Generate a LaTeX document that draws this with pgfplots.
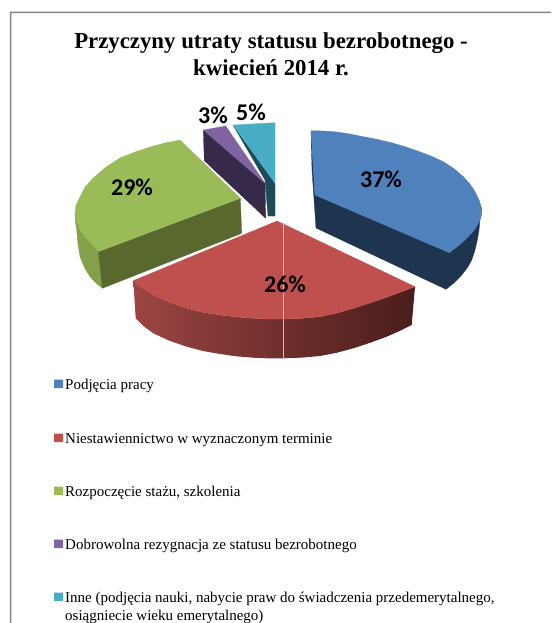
\documentclass[border=0pt]{standalone}
\usepackage{fontspec}
\setmainfont{Liberation Serif}
\newfontfamily\calib{Carlito}
\usepackage{pgfplots}
\pgfplotsset{compat=1.18}
\definecolor{bluetop}{HTML}{4F81BD}\definecolor{bluewall}{HTML}{1F344E}
\definecolor{redtop}{HTML}{C0504D}
\definecolor{redA}{HTML}{9C4543}\definecolor{redB}{HTML}{6E2E2C}\definecolor{redC}{HTML}{4A1E1C}
\definecolor{greentop}{HTML}{9BBB59}\definecolor{greenwall}{HTML}{58682F}\definecolor{greenout}{HTML}{84A04A}
\definecolor{purptop}{HTML}{8064A2}\definecolor{purpwall}{HTML}{37294A}
\definecolor{tealtop}{HTML}{4BACC6}\definecolor{tealwall}{HTML}{1F4A58}
\definecolor{framecol}{HTML}{868686}
\tikzset{
  lab/.style={font=\calib\bfseries\fontsize{24}{26}\selectfont, inner sep=0pt, anchor=center},
  leg/.style={font=\fontsize{15}{17}\selectfont, inner sep=0pt, anchor=base west},
  ttl/.style={font=\bfseries\fontsize{22.8}{27}\selectfont, inner sep=0pt, anchor=base},
}
\begin{document}
\begin{tikzpicture}
\path[use as bounding box] (0,0) rectangle (551pt,623pt);
\begin{axis}[
  at={(0,0)}, anchor=south west,
  scale only axis, width=551pt, height=623pt,
  xmin=0, xmax=551, ymin=0, ymax=623, y dir=reverse,
  axis lines=none, no markers, clip=true,
  every axis plot/.append style={line width=0.3pt, line join=round},
]
% frame
\addplot[fill=framecol, draw=none] coordinates {(9.75,623)(9.75,11.75)(551,11.75)(551,13.25)(11.25,13.25)(11.25,623)(9.75,623)};
% purple slice (3%)
\addplot[fill=purpwall, draw=purpwall] coordinates {(203.3,130)(204.3,160.7)(265.7,218.3)(265,183.3)(203.3,130)};
\addplot[fill=purptop, draw=purptop] coordinates {(203.3,130)(225.7,126)(265,183.3)(203.3,130)};
% teal slice (5%)
\addplot[fill=tealwall, draw=tealwall] coordinates {(233,125)(265,180)(268,216)(275,216)(275,183.3)(233,125)};
\addplot[fill=tealtop, draw=tealtop] coordinates {(233,125)(275,122.7)(275,183.3)(233,125)};
% green slice (29%)
\addplot[fill=greenout, draw=greenout] coordinates {(75,213)(75.5,222)(76.7,230)(78,244)(80,256.7)(84.5,267.5)(90,276.7)(96,283)(102.3,288.3)(98.3,251.7)(75,213)};
\addplot[fill=greenwall, draw=greenwall] coordinates {(240.3,198.3)(241.7,233.3)(102.3,288.3)(98.3,251.7)(240.3,198.3)};
\addplot[fill=greentop, draw=greentop] coordinates {(180,140)(165,143)(150,147)(135,152)(120,158)(106,167)(93.3,178)(85,187)(80,197)(76,205)(75,213)(77,222)(80,230)(88,240)(98.3,251.7)(240.3,198.3)(180,140)};
% blue slice (37%)
\addplot[fill=bluewall, draw=bluewall] coordinates {(311,130.7)(312,170)(316,228)(446,289.3)(454.5,282.5)(461.7,275)(467.5,267.5)(471.7,260)(475,250)(477.3,240)(479,230)(480,220)(481.7,208.3)(449.3,252.7)(315,195)(311,130.7)};
\addplot[fill=bluetop, draw=bluetop] coordinates {(311,130.7)(324,131)(337,132)(350,134)(363.3,136.7)(377,139.3)(390,142.3)(403.5,146.2)(416.7,150.7)(430.5,155.8)(443.3,161.7)(454,168.7)(463.3,176.7)(470,184)(475,191.7)(479,199.8)(481.7,208.3)(481.5,215.5)(479.3,221.7)(474,230.5)(466.7,238.3)(458.5,245.8)(449.3,252.7)(315,195)(311,130.7)};
% red slice (26%)
\addplot[left color=redA, right color=redB, draw=none] coordinates {(133.3,280.7)(135.7,318.3)(144,326.5)(153.3,333.3)(169.5,340.8)(186.7,346.7)(203,351)(220,354)(236.5,356.3)(253.3,357.7)(268,358.3)(283.3,358.3)(283.3,319)(268,319)(253.3,318.3)(236.5,317)(220,315)(203,312.3)(186.7,308.3)(169.5,302.3)(153.3,295)(143,288.5)(133.3,280.7)};
\addplot[left color=redB, right color=redC, draw=none] coordinates {(283.3,319)(283.3,358.3)(302,357.6)(320,356)(337,352.7)(353.3,348.3)(370,342.8)(386.7,336.7)(399.5,331)(411.7,325)(415,286.7)(401,292)(386.7,297.3)(370,303)(353.3,308.3)(337,313)(320,316.7)(302,318.3)(283.3,319)};
\addplot[fill=redtop, draw=redtop] coordinates {(277,221)(133.3,280.7)(143,288.5)(153.3,295)(169.5,302.3)(186.7,308.3)(203,312.3)(220,315)(236.5,317)(253.3,318.3)(268,319)(283.3,319)(302,318.3)(320,316.7)(337,313)(353.3,308.3)(370,303)(386.7,297.3)(401,292)(415,286.7)(277,221)};
\addplot[color=redtop!45!white, line width=0.6pt] coordinates {(283.3,223)(283.3,358)};
% data labels
\node[lab] at (axis cs:381,179) {37\%};
\node[lab] at (axis cs:285,284) {26\%};
\node[lab] at (axis cs:132,187) {29\%};
\node[lab] at (axis cs:213,115) {3\%};
\node[lab] at (axis cs:251,112) {5\%};
% title
\node[ttl] at (axis cs:271,49) {Przyczyny utraty statusu bezrobotnego -};
\node[ttl] at (axis cs:271,76) {kwiecień 2014 r.};
% legend
\addplot[fill=bluetop, draw=none] coordinates {(54,379.5)(63,379.5)(63,388)(54,388)(54,379.5)};
\addplot[fill=redtop, draw=none] coordinates {(54,433.5)(63,433.5)(63,442)(54,442)(54,433.5)};
\addplot[fill=greentop, draw=none] coordinates {(54,486.5)(63,486.5)(63,495)(54,495)(54,486.5)};
\addplot[fill=purptop, draw=none] coordinates {(54,539.5)(63,539.5)(63,548)(54,548)(54,539.5)};
\addplot[fill=tealtop, draw=none] coordinates {(54,592.5)(63,592.5)(63,601)(54,601)(54,592.5)};
\node[leg] at (axis cs:65,389) {Podjęcia pracy};
\node[leg] at (axis cs:65,443) {Niestawiennictwo w wyznaczonym terminie};
\node[leg] at (axis cs:65,496) {Rozpoczęcie stażu, szkolenia};
\node[leg] at (axis cs:65,549) {Dobrowolna rezygnacja ze statusu bezrobotnego};
\node[leg] at (axis cs:65,602) {Inne (podjęcia nauki, nabycie praw do świadczenia przedemerytalnego,};
\node[leg] at (axis cs:65,620) {osiągniecie wieku emerytalnego)};
\end{axis}
\end{tikzpicture}
\end{document}
